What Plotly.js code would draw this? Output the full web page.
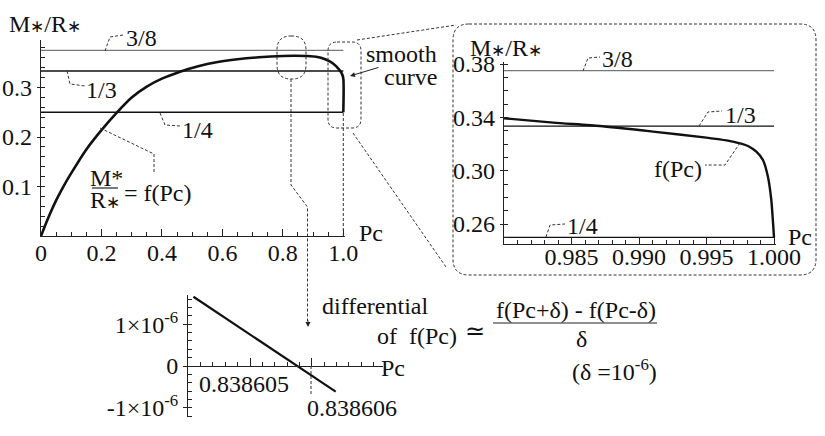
<!DOCTYPE html>
<html>
<head>
<meta charset="utf-8">
<script src="https://cdn.plot.ly/plotly-3.0.1.min.js"></script>
<style>html,body{margin:0;padding:0;background:#fff}#plot{width:825px;height:436px}</style>
</head>
<body>
<div id="plot"></div>
<script>
// ---------------- DATA ----------------
const mainPc = [0, 0.02, 0.05, 0.075, 0.1, 0.15, 0.2, 0.25, 0.3, 0.35, 0.4, 0.46, 0.52, 0.58, 0.65, 0.72, 0.8, 0.84, 0.88, 0.91, 0.94, 0.965, 0.985, 0.996, 1.0, 1.0];
const mainMR = [0, 0.031, 0.072, 0.101, 0.127, 0.175, 0.214, 0.249, 0.280, 0.302, 0.318, 0.332, 0.343, 0.351, 0.357, 0.361, 0.3638, 0.3642, 0.3636, 0.362, 0.357, 0.349, 0.337, 0.327, 0.318, 0.25];
const levels = [3/8, 1/3, 1/4];
const levelLabels = ['3/8', '1/3', '1/4'];
const insetPc = [0.98, 0.98365, 0.9871, 0.99104, 0.99499, 0.99696, 0.99807, 0.99869, 0.99918, 0.99955, 0.9998, 1.0];
const insetMR = [0.3393, 0.3360, 0.3335, 0.3293, 0.3248, 0.3218, 0.3185, 0.3142, 0.3080, 0.2955, 0.2780, 0.25];
const diffPc = [0.8386040833, 0.838606389];
const diffVal = [1.66e-6, -0.616e-6];
const mainXTicks = [0, 0.2, 0.4, 0.6, 0.8, 1.0];
const mainXText = ['0', '0.2', '0.4', '0.6', '0.8', '1.0'];
const mainYTicks = [0.1, 0.2, 0.3];
const mainYText = ['0.1', '0.2', '0.3'];
const insetXTicks = [0.985, 0.990, 0.995, 1.000];
const insetXText = ['0.985', '0.990', '0.995', '1.000'];
const insetYTicks = [0.26, 0.30, 0.34, 0.38];
const insetYText = ['0.26', '0.30', '0.34', '0.38'];
const diffXTicks = [0.838605, 0.838606];
const diffXText = ['0.838605', '0.838606'];
const diffYTicks = [-1e-6, 0, 1e-6];
const diffYText = ['-1×10<sup>-6</sup>', '0', '1×10<sup>-6</sup>'];

// ---------------- STYLE / LAYOUT ----------------
const W = 825, H = 436;
const X = x => x / W;
const Y = y => 1 - y / H;
const FONT = 'Times New Roman';
const INK = '#222';
const levelColors = ['#777', '#111', '#111'];
const STAR = '<span style="font-size:17px">∗</span>';
const MR = 'M' + STAR + '/R' + STAR;

function P(x, y) { return X(x) + ',' + Y(y); }
function rr(x0, y0, x1, y1, r) {
  return 'M' + P(x0 + r, y0) + ' L' + P(x1 - r, y0) + ' Q' + P(x1, y0) + ' ' + P(x1, y0 + r) +
    ' L' + P(x1, y1 - r) + ' Q' + P(x1, y1) + ' ' + P(x1 - r, y1) +
    ' L' + P(x0 + r, y1) + ' Q' + P(x0, y1) + ' ' + P(x0, y1 - r) +
    ' L' + P(x0, y0 + r) + ' Q' + P(x0, y0) + ' ' + P(x0 + r, y0) + ' Z';
}
function poly(pts) { return 'M' + pts.map(p => P(p[0], p[1])).join(' L'); }
const dashLine = {color: '#333', width: 1, dash: '3px,2px'};
function dshape(path) { return {type: 'path', xref: 'paper', yref: 'paper', path: path, line: dashLine}; }
function solid(path, w) { return {type: 'path', xref: 'paper', yref: 'paper', path: path, line: {color: INK, width: w || 1}}; }
function txt(x, y, text, anchor) {
  return {xref: 'paper', yref: 'paper', x: X(x), y: Y(y), text: text, showarrow: false,
    xanchor: anchor || 'center', yanchor: 'middle', font: {family: FONT, size: 24, color: '#111'}};
}

const traces = [];
traces.push({x: mainPc, y: mainMR, xaxis: 'x', yaxis: 'y', mode: 'lines',
  line: {color: '#111', width: 2.6, shape: 'spline', smoothing: 0.8}, hoverinfo: 'skip'});
levels.forEach((v, i) => {
  traces.push({x: [0, 1], y: [v, v], xaxis: 'x', yaxis: 'y', mode: 'lines',
    line: {color: levelColors[i], width: 1.3}, hoverinfo: 'skip'});
  traces.push({x: [0.98, 1], y: [v, v], xaxis: 'x2', yaxis: 'y2', mode: 'lines',
    line: {color: levelColors[i], width: 1.3}, hoverinfo: 'skip'});
});
traces.push({x: insetPc, y: insetMR, xaxis: 'x2', yaxis: 'y2', mode: 'lines',
  line: {color: '#111', width: 2.4, shape: 'spline', smoothing: 0.6}, hoverinfo: 'skip'});
traces.push({x: diffPc, y: diffVal, xaxis: 'x3', yaxis: 'y3', mode: 'lines',
  line: {color: '#111', width: 2.2}, hoverinfo: 'skip'});

const axBase = {showline: true, linecolor: INK, linewidth: 1.3, showgrid: false, zeroline: false,
  tickcolor: INK, tickfont: {family: FONT, size: 24, color: '#111'}, fixedrange: true};

const layout = {
  width: W, height: H, margin: {l: 0, r: 0, t: 0, b: 0},
  paper_bgcolor: '#fff', plot_bgcolor: 'rgba(0,0,0,0)', showlegend: false,
  font: {family: FONT, size: 24, color: '#111'},
  xaxis: Object.assign({}, axBase, {domain: [X(41), X(345)], range: [0, 1.0056], anchor: 'y',
    tickmode: 'array', tickvals: mainXTicks, ticktext: mainXText, ticks: 'inside', ticklen: 7,
    ticklabelstandoff: -5,
    minor: {dtick: 0.05, ticks: 'inside', ticklen: 4, tickcolor: INK}}),
  yaxis: Object.assign({}, axBase, {domain: [Y(236), Y(40)], range: [0, 0.396], anchor: 'x',
    tickmode: 'array', tickvals: mainYTicks, ticktext: mainYText, ticks: 'outside', ticklen: 3,
    minor: {dtick: 0.02, ticks: 'inside', ticklen: 4, tickcolor: INK}}),
  xaxis2: Object.assign({}, axBase, {domain: [X(504), X(776)], range: [0.98, 1.000148], anchor: 'y2',
    tickmode: 'array', tickvals: insetXTicks, ticktext: insetXText, ticks: 'inside', ticklen: 7,
    ticklabelstandoff: -9,
    minor: {dtick: 0.001, tick0: 0.98, ticks: 'inside', ticklen: 4, tickcolor: INK}}),
  yaxis2: Object.assign({}, axBase, {domain: [Y(244), Y(62)], range: [0.245, 0.3815], anchor: 'x2',
    tickmode: 'array', tickvals: insetYTicks, ticktext: insetYText, ticks: 'outside', ticklen: 3,
    minor: {dtick: 0.01, tick0: 0.25, ticks: 'inside', ticklen: 4, tickcolor: INK}}),
  xaxis3: Object.assign({}, axBase, {domain: [X(188.3), X(383)], range: [0.838604, 0.8386071557],
    anchor: 'free', position: Y(366), showticklabels: false,
    tickmode: 'array', tickvals: diffXTicks, ticks: 'inside', ticklen: 8,
    minor: {dtick: 2e-7, tick0: 0.838604, ticks: 'inside', ticklen: 4, tickcolor: INK}}),
  yaxis3: Object.assign({}, axBase, {domain: [Y(416.7), Y(295)], range: [-1.216e-6, 1.703e-6], anchor: 'x3',
    tickmode: 'array', tickvals: diffYTicks, ticktext: diffYText, ticks: 'outside', ticklen: 4,
    minor: {dtick: 2e-7, ticks: 'inside', ticklen: 4, tickcolor: INK}}),
  shapes: [
    dshape(rr(277, 36, 306, 79, 14)),
    dshape(rr(328, 42, 361, 128, 9)),
    dshape(rr(453, 24, 816, 275, 16)),
    dshape(poly([[357, 40], [456, 25]])),
    dshape(poly([[353, 133], [446, 267]])),
    dshape(poly([[291, 79], [291, 185], [307.5, 207], [307.5, 321]])),
    {type: 'line', xref: 'x', yref: 'y', x0: 1, x1: 1, y0: 0, y1: levels[2], line: dashLine},
    dshape(poly([[105, 51], [110, 37], [123, 35]])),
    dshape(poly([[67, 71], [70, 84], [85, 86]])),
    dshape(poly([[160, 113], [165, 125], [180, 126]])),
    dshape(poly([[100, 128], [154, 154], [154, 172]])),
    dshape(poly([[583, 71], [588, 58], [600, 57]])),
    dshape(poly([[699, 126], [708, 112], [722, 111]])),
    dshape(poly([[740, 143], [725, 165], [705, 165]])),
    dshape(poly([[546, 237], [550, 225], [565, 224]])),
    dshape(poly([[311, 366], [311, 396]])),
    solid(poly([[92, 188], [118, 188]]), 1.2),
    solid(poly([[493, 323], [657, 323]]), 1.2)
  ],
  annotations: [
    txt(45, 24, MR),
    txt(141, 38, levelLabels[0]),
    txt(101, 90, levelLabels[1]),
    txt(197, 130, levelLabels[2]),
    txt(106, 178, 'M*'),
    txt(105, 200, 'R' + STAR),
    txt(122, 193, '= f(Pc)', 'left'),
    txt(371, 233, 'Pc'),
    txt(439, 54, 'smooth', 'right'),
    txt(439, 77, 'curve', 'right'),
    {xref: 'paper', yref: 'paper', x: X(350), y: Y(76), ax: 30, ay: -9, text: '', showarrow: true,
      arrowhead: 2, arrowsize: 1, arrowwidth: 1, arrowcolor: INK},
    txt(506, 48, MR),
    txt(617, 59, levelLabels[0]),
    txt(740, 115, levelLabels[1]),
    txt(678, 169, 'f(Pc)'),
    txt(582, 226, levelLabels[2]),
    txt(800, 237, 'Pc'),
    txt(393, 368, 'Pc'),
    txt(244, 384, diffXText[0]),
    txt(352, 408, diffXText[1]),
    {xref: 'paper', yref: 'paper', x: X(308), y: Y(327), ax: 0, ay: -8, text: '', showarrow: true,
      arrowhead: 2, arrowsize: 1, arrowwidth: 1, arrowcolor: INK},
    txt(375, 306, 'differential'),
    txt(417, 336, 'of  f(Pc)'),
    txt(475, 331, '≃'),
    txt(576, 310, 'f(Pc+δ) - f(Pc-δ)'),
    txt(581, 339, 'δ'),
    txt(614, 370, '(δ =10<sup>-6</sup>)')
  ]
};

Plotly.newPlot('plot', traces, layout, {staticPlot: true, displayModeBar: false});
</script>
</body>
</html>
